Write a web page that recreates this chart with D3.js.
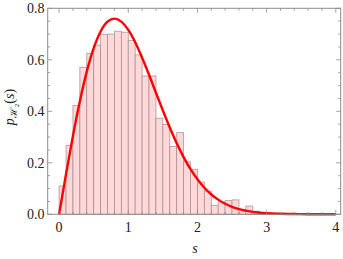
<!DOCTYPE html>
<html>
<head>
<meta charset="utf-8">
<script src="https://cdn.jsdelivr.net/npm/d3@7"></script>
<style>
  body { margin: 0; background: #fff; }
  svg { display: block; }
  text { font-family: "Liberation Serif", "DejaVu Serif", serif; }
</style>
</head>
<body>
<div id="chart"></div>
<script>
// histogram bins (left edge, width 0.1) and their heights
const binLeft = [0.0, 0.1, 0.2, 0.3, 0.4, 0.5, 0.6, 0.7, 0.8, 0.9,
                 1.0, 1.1, 1.2, 1.3, 1.4, 1.5, 1.6, 1.7, 1.8, 1.9,
                 2.0, 2.1, 2.2, 2.3, 2.4, 2.5, 2.6, 2.7, 2.8, 2.9,
                 3.0, 3.1];
const binHeight = [0.110, 0.268, 0.423, 0.571, 0.625, 0.657, 0.699, 0.700, 0.711, 0.707,
                   0.675, 0.619, 0.537, 0.537, 0.373, 0.349, 0.263, 0.317, 0.204, 0.175,
                   0.125, 0.090, 0.035, 0.048, 0.053, 0.056, 0.019, 0.032, 0.012, 0.006,
                   0.003, 0.002];
const binWidth = 0.1;

// red curve
const curveS = [0.0, 0.1, 0.2, 0.3, 0.4, 0.5, 0.6, 0.7, 0.8, 0.9,
                1.0, 1.1, 1.2, 1.3, 1.4, 1.5, 1.6, 1.7, 1.8, 1.9,
                2.0, 2.1, 2.2, 2.3, 2.4, 2.5, 2.6, 2.7, 2.8, 2.9,
                3.0, 3.2, 3.4, 3.6, 3.8, 4.0];
const curveP = [0.000, 0.156, 0.304, 0.439, 0.554, 0.645, 0.710, 0.748, 0.760, 0.748,
                0.716, 0.668, 0.608, 0.542, 0.472, 0.403, 0.337, 0.276, 0.222, 0.175,
                0.136, 0.103, 0.077, 0.057, 0.041, 0.029, 0.020, 0.014, 0.009, 0.006,
                0.004, 0.002, 0.001, 0.000, 0.000, 0.000];

const xTicks = [0, 1, 2, 3, 4];
const yTicks = [0.0, 0.2, 0.4, 0.6, 0.8];

const width = 343, height = 259;
const frame = {left: 47.7, right: 340.7, top: 8.3, bottom: 214.3};

const svg = d3.select('#chart')
  .append('svg')
    .attr('width', width)
    .attr('height', height);

const x = d3.scaleLinear().domain([0, 4]).range([59.1, 335.8]);
const y = d3.scaleLinear().domain([0, 0.8]).range([frame.bottom, frame.top]);

// bars
svg.append('g')
  .selectAll('rect')
  .data(binLeft)
  .join('rect')
    .attr('x', d => x(d))
    .attr('y', (d, i) => y(binHeight[i]))
    .attr('width', d => x(d + binWidth) - x(d))
    .attr('height', (d, i) => y(0) - y(binHeight[i]))
    .style('fill', '#ffd9d9')
    .style('stroke', '#a08a8a')
    .style('stroke-opacity', 0.85)
    .style('stroke-width', 0.8);

// curve
const line = d3.line()
  .x(d => x(d[0]))
  .y(d => y(d[1]))
  .curve(d3.curveMonotoneX);

svg.append('path')
  .datum(curveS.map((s, i) => [s, curveP[i]]))
  .attr('d', line)
  .style('fill', 'none')
  .style('stroke', '#ff0000')
  .style('stroke-width', 2.4);

// frame
const frameColor = '#8c8c8c';
svg.append('rect')
  .attr('x', frame.left)
  .attr('y', frame.top)
  .attr('width', frame.right - frame.left)
  .attr('height', frame.bottom - frame.top)
  .style('fill', 'none')
  .style('stroke', frameColor)
  .style('stroke-width', 1);

// ticks (inward on all four sides)
const xMinor = d3.range(0, 4.001, 0.2).filter(v => Math.abs(v - Math.round(v)) > 1e-6);
const yMinor = d3.range(0.05, 0.8, 0.05).filter(v => Math.abs(v * 5 - Math.round(v * 5)) > 1e-6);
const major = 4.5, minor = 2.5;
const tg = svg.append('g').style('stroke', frameColor).style('stroke-width', 0.8);

function xTick(v, len) {
  tg.append('line').attr('x1', x(v)).attr('x2', x(v)).attr('y1', frame.bottom).attr('y2', frame.bottom - len);
  tg.append('line').attr('x1', x(v)).attr('x2', x(v)).attr('y1', frame.top).attr('y2', frame.top + len);
}
function yTick(v, len) {
  tg.append('line').attr('y1', y(v)).attr('y2', y(v)).attr('x1', frame.left).attr('x2', frame.left + len);
  tg.append('line').attr('y1', y(v)).attr('y2', y(v)).attr('x1', frame.right).attr('x2', frame.right - len);
}
xTicks.forEach(v => xTick(v, major));
xMinor.forEach(v => xTick(v, minor));
yTicks.forEach(v => yTick(v, major));
yMinor.forEach(v => yTick(v, minor));

// tick labels
svg.append('g')
  .selectAll('text')
  .data(xTicks)
  .join('text')
    .attr('x', d => x(d))
    .attr('y', 231.5)
    .attr('text-anchor', 'middle')
    .style('font-size', '14px')
    .style('fill', '#222')
    .text(d => d);

svg.append('g')
  .selectAll('text')
  .data(yTicks)
  .join('text')
    .attr('x', 44.5)
    .attr('y', d => y(d) + 4.8)
    .attr('text-anchor', 'end')
    .style('font-size', '14px')
    .style('fill', '#222')
    .text(d => d.toFixed(1));

// axis labels
svg.append('text')
  .attr('x', 195)
  .attr('y', 253)
  .attr('text-anchor', 'middle')
  .style('font-size', '14px')
  .style('font-style', 'italic')
  .style('fill', '#222')
  .text('s');

const yl = svg.append('text')
  .attr('transform', 'translate(14,107) rotate(-90)')
  .attr('text-anchor', 'middle')
  .style('font-size', '14px')
  .style('fill', '#222');
yl.append('tspan').style('font-style', 'italic').text('p');
yl.append('tspan').attr('dy', 3).style('font-size', '10px').text('ℋ');
yl.append('tspan').attr('dy', 2).style('font-size', '7px').text('2');
yl.append('tspan').attr('dy', -5).text('(');
yl.append('tspan').style('font-style', 'italic').text('s');
yl.append('tspan').text(')');
</script>
</body>
</html>
